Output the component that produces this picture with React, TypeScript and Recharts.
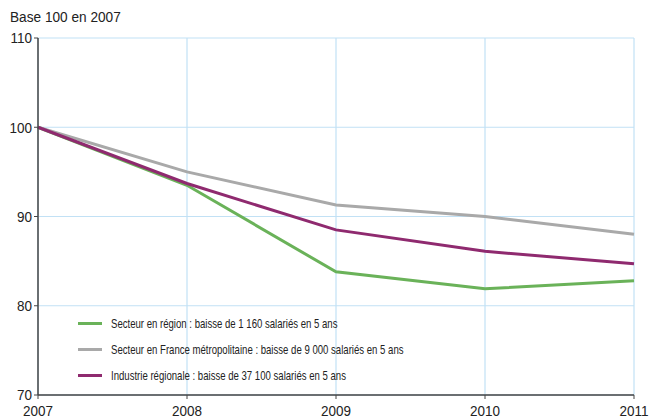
import React from "react";
import { LineChart, Line, XAxis, YAxis, CartesianGrid } from "recharts";

const years = ["2007", "2008", "2009", "2010", "2011"];
const secteurRegion = [100, 93.5, 83.8, 81.9, 82.8];
const secteurFrance = [100, 95.0, 91.3, 90.0, 88.0];
const industrieRegionale = [100, 93.7, 88.5, 86.1, 84.7];
const yTicks = [70, 80, 90, 100, 110];

const seriesInfo = [
  { key: "region", name: "Secteur en région : baisse de 1 160 salariés en 5 ans", color: "#6ab259" },
  { key: "france", name: "Secteur en France métropolitaine : baisse de 9 000 salariés en 5 ans", color: "#a9a9a9" },
  { key: "industrie", name: "Industrie régionale : baisse de 37 100 salariés en 5 ans", color: "#8f2a6f" },
];

const data = years.map((y, i) => ({
  year: y,
  region: secteurRegion[i],
  france: secteurFrance[i],
  industrie: industrieRegionale[i],
}));

const FONT = "'Liberation Sans', Arial, sans-serif";

const XTick = (props: any) => {
  const { x, y, payload } = props;
  return (
    <g transform={`translate(${x},${y})`}>
      <text transform="scale(0.9,1)" textAnchor="middle" dy="0.71em" fontSize={15} fontFamily={FONT} fill="#222">
        {payload.value}
      </text>
    </g>
  );
};

const YTick = (props: any) => {
  const { x, y, payload } = props;
  return (
    <g transform={`translate(${x},${y})`}>
      <text transform="scale(0.9,1)" textAnchor="end" dy="0.355em" fontSize={15} fontFamily={FONT} fill="#222">
        {payload.value}
      </text>
    </g>
  );
};

export default function App() {
  return (
    <div style={{ position: "absolute", left: 0, top: 0, width: 649, height: 419, background: "#fff" }}>
      <div
        style={{
          position: "absolute",
          left: 10,
          top: 8,
          fontFamily: FONT,
          fontSize: 15.5,
          color: "#222",
          whiteSpace: "nowrap",
          transform: "scaleX(0.88)",
          transformOrigin: "left center",
        }}
      >
        Base 100 en 2007
      </div>
      <LineChart width={649} height={419} data={data} margin={{ top: 38, right: 15, left: 0, bottom: 4 }}>
        <CartesianGrid stroke="#c2e1f5" strokeWidth={1.2} />
        <XAxis
          dataKey="year"
          axisLine={{ stroke: "#444", strokeWidth: 1.5 }}
          tickLine={{ stroke: "#444" }}
          tickSize={4}
          tickMargin={6}
          height={20}
          interval={0}
          tick={<XTick />}
        />
        <YAxis
          domain={[70, 110]}
          ticks={yTicks}
          axisLine={{ stroke: "#444", strokeWidth: 1.5 }}
          tickLine={{ stroke: "#444" }}
          tickSize={4}
          tickMargin={2}
          width={38}
          tick={<YTick />}
        />
        {seriesInfo.map((s) => (
          <Line
            key={s.key}
            dataKey={s.key}
            name={s.name}
            stroke={s.color}
            strokeWidth={3}
            dot={false}
            isAnimationActive={false}
          />
        ))}
      </LineChart>
      <div style={{ position: "absolute", left: 78, top: 310, fontFamily: FONT, fontSize: 13.5, color: "#222" }}>
        {seriesInfo.map((s) => (
          <div key={s.key} style={{ display: "flex", alignItems: "center", height: 26 }}>
            <div style={{ width: 24, height: 3, background: s.color, marginRight: 9, flexShrink: 0 }} />
            <span
              style={{
                display: "inline-block",
                whiteSpace: "nowrap",
                transform: "scaleX(0.71)",
                transformOrigin: "left center",
              }}
            >
              {s.name}
            </span>
          </div>
        ))}
      </div>
    </div>
  );
}
